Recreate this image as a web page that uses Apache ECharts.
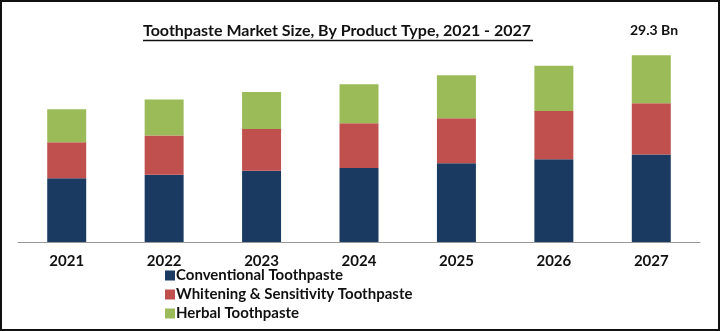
<!DOCTYPE html>
<html>
<head>
<meta charset="utf-8">
<script src="https://cdn.jsdelivr.net/npm/echarts@6/dist/echarts.min.js"></script>
<style>
html,body{margin:0;padding:0;background:#fff;}
#chart{width:720px;height:331px;}
</style>
</head>
<body>
<div id="chart"></div>
<script>
const categories = ['2021','2022','2023','2024','2025','2026','2027'];
const conventional = [9.99, 10.57, 11.2, 11.63, 12.36, 12.99, 13.73];
const whitening = [5.68, 6.15, 6.52, 6.99, 7.05, 7.57, 8.05];
const herbal = [5.16, 5.63, 5.84, 6.15, 6.74, 7.10, 7.53];
const seriesNames = ['Conventional Toothpaste', 'Whitening & Sensitivity Toothpaste', 'Herbal Toothpaste'];
const titleText = 'Toothpaste Market Size, By Product Type, 2021 - 2027';
const annotation = '29.3 Bn';

const FONT = 'Lato';
const chart = echarts.init(document.getElementById('chart'), null, {renderer: 'canvas'});
const colors = ['#1b3a61', '#c0504d', '#9bbb59'];
const mk = (name, data, i) => ({
  name, type: 'bar', stack: 'total', data, barWidth: '40%',
  itemStyle: {color: colors[i]}, emphasis: {disabled: true}
});
chart.setOption({
  animation: false,
  textStyle: {fontFamily: FONT},
  title: {
    text: titleText, left: 143, top: 23, padding: 0,
    textStyle: {fontFamily: FONT, fontSize: 16, fontWeight: 'bold', color: '#111'}
  },
  graphic: [
    {type: 'rect', shape: {x: 1, y: 1, width: 718, height: 329}, style: {fill: 'none', stroke: '#111', lineWidth: 2}, silent: true},
    {type: 'line', shape: {x1: 143, y1: 40.5, x2: 533, y2: 40.5}, style: {stroke: '#111', lineWidth: 1.5}, silent: true},
    {type: 'text', left: 630, top: 23, style: {text: annotation, fontFamily: FONT, fontSize: 14, fontWeight: 'bold', fill: '#111'}, silent: true}
  ],
  legend: {
    orient: 'vertical', left: 160, top: 263,
    itemWidth: 10, itemHeight: 10, itemGap: 4,
    icon: 'rect',
    textStyle: {fontFamily: FONT, fontSize: 15, fontWeight: 'bold', color: '#111', lineHeight: 15, padding: [0,0,0,-4]},
    data: seriesNames, selectedMode: false
  },
  grid: {left: 18, right: 20, top: 55.3, bottom: 89, containLabel: false},
  xAxis: {
    type: 'category', data: categories,
    axisLine: {lineStyle: {color: '#999', width: 1}},
    axisTick: {length: 5, lineStyle: {color: '#999'}},
    axisLabel: {fontFamily: FONT, fontSize: 15, fontWeight: 'bold', color: '#111', margin: 12}
  },
  yAxis: {type: 'value', min: 0, max: 29.3, show: false, splitLine: {show: false}},
  series: [mk(seriesNames[0], conventional, 0), mk(seriesNames[1], whitening, 1), mk(seriesNames[2], herbal, 2)]
});
</script>
</body>
</html>
